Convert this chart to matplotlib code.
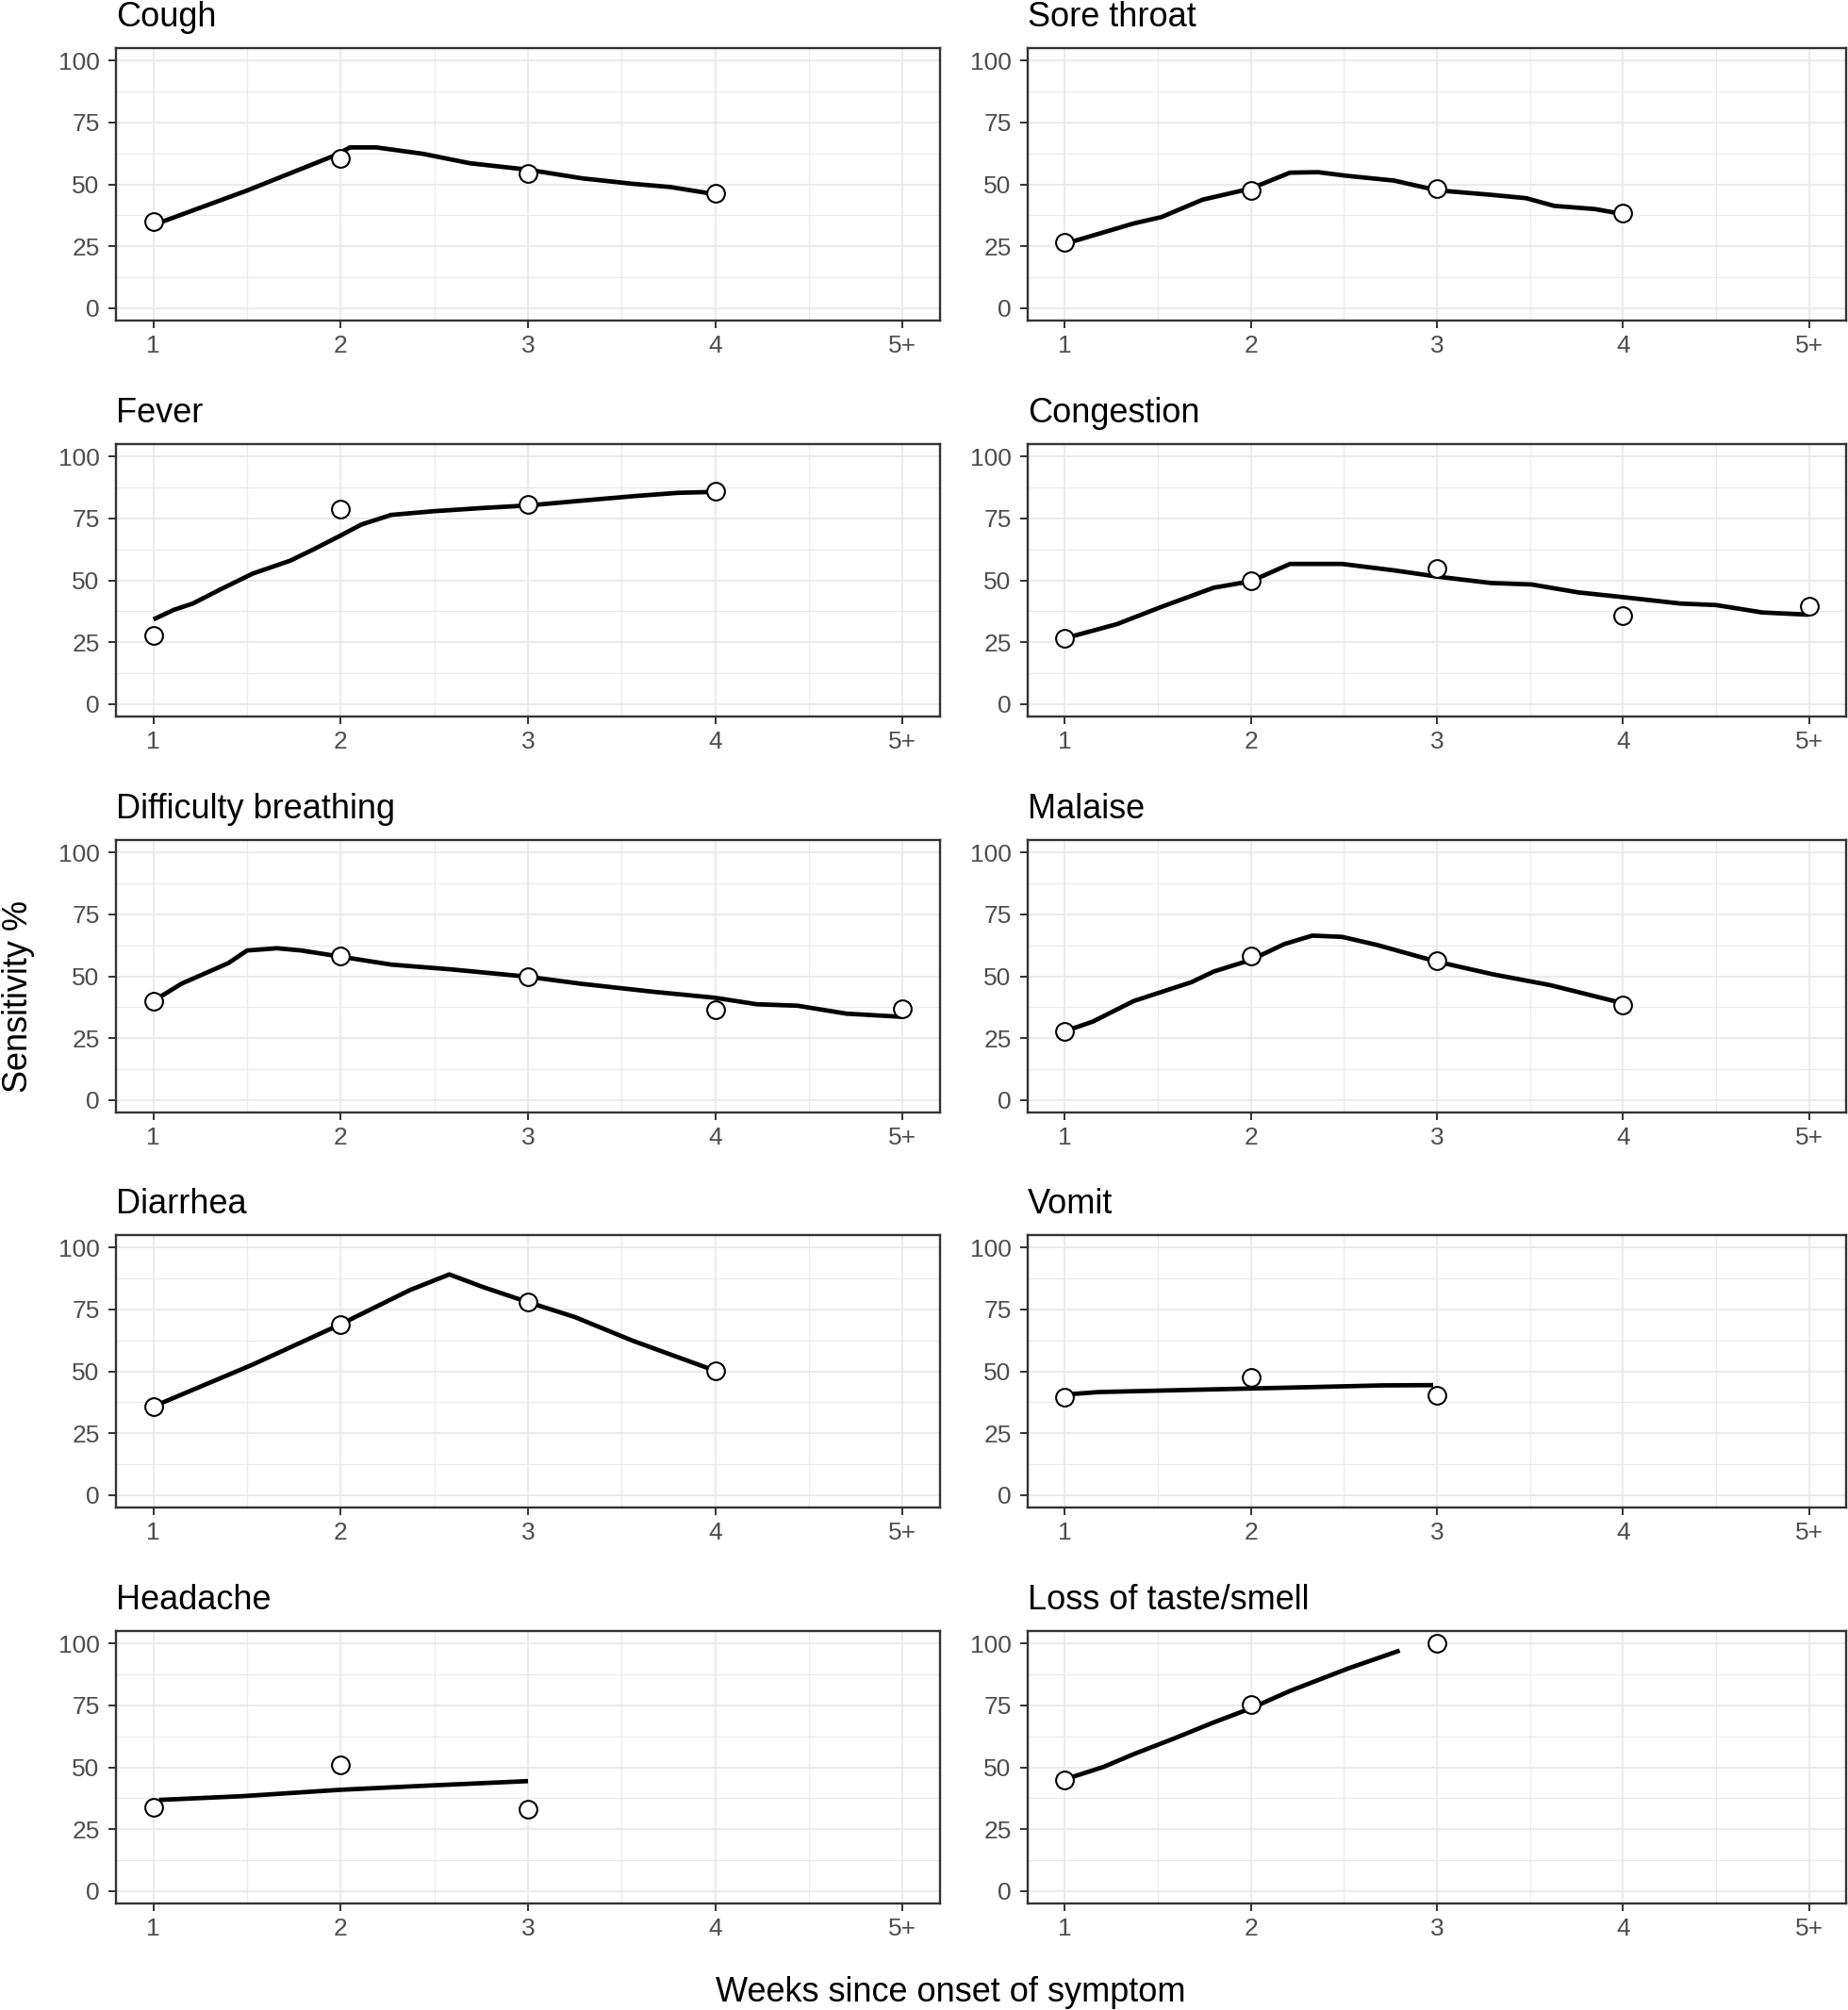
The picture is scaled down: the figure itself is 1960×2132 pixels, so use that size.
import matplotlib
matplotlib.use("Agg")
import matplotlib.pyplot as plt
from matplotlib.ticker import MultipleLocator

plt.rcParams['font.family'] = ['Liberation Sans', 'DejaVu Sans']

# ---------------- data ----------------
week_labels = ["1", "2", "3", "4", "5+"]
week_ticks = [1, 2, 3, 4, 5]
y_ticks = [0, 25, 50, 75, 100]

symptoms = ["Cough", "Sore throat", "Fever", "Congestion",
            "Difficulty breathing", "Malaise", "Diarrhea", "Vomit",
            "Headache", "Loss of taste/smell"]

# observed sensitivity (%) by week
cough_wk = [1, 2, 3, 4]
cough_val = [35, 60.5, 54.5, 46.5]
sore_wk = [1, 2, 3, 4]
sore_val = [26.6, 47.4, 48.3, 38.3]
fever_wk = [1, 2, 3, 4]
fever_val = [27.6, 78.7, 80.5, 86]
cong_wk = [1, 2, 3, 4, 5]
cong_val = [26.6, 49.8, 54.7, 35.8, 39.6]
breath_wk = [1, 2, 3, 4, 5]
breath_val = [40, 58.2, 49.8, 36.5, 36.8]
malaise_wk = [1, 2, 3, 4]
malaise_val = [27.8, 58.2, 56.2, 38.3]
diarr_wk = [1, 2, 3, 4]
diarr_val = [35.8, 69, 77.9, 50.2]
vomit_wk = [1, 2, 3]
vomit_val = [39.6, 47.4, 40.4]
head_wk = [1, 2, 3]
head_val = [34, 51.1, 33.2]
taste_wk = [1, 2, 3]
taste_val = [44.7, 75.4, 100]

# smoothed trend curves
cough_lx = [1, 1.5, 1.97, 2.05, 2.19, 2.44, 2.69, 3, 3.29, 3.56, 3.76, 4]
cough_ly = [33.6, 47.5, 61.7, 64.9, 64.9, 62.3, 58.5, 55.9, 52.4, 50.2, 48.9, 46]
sore_lx = [1, 1.37, 1.52, 1.74, 2, 2.21, 2.36, 2.52, 2.77, 3, 3.3, 3.48, 3.63, 3.85, 4]
sore_ly = [26, 34.2, 36.8, 43.8, 48.3, 54.7, 54.9, 53.4, 51.5, 47.6, 45.7, 44.4, 41.3, 40, 38]
fever_lx = [1, 1.11, 1.21, 1.36, 1.53, 1.73, 1.85, 2, 2.11, 2.27, 2.5, 2.76, 3, 3.28, 3.57, 3.8, 4]
fever_ly = [34.2, 38.1, 40.6, 46.4, 52.7, 57.9, 62.3, 68.1, 72.5, 76.4, 77.9, 79.2, 80.2, 82.1, 84, 85.3, 85.7]
cong_lx = [1, 1.28, 1.52, 1.8, 2, 2.21, 2.49, 2.77, 3, 3.29, 3.51, 3.76, 4, 4.31, 4.5, 4.75, 5]
cong_ly = [26.6, 32.3, 39.3, 47, 49.6, 56.6, 56.6, 54, 51.5, 48.9, 48.3, 45.1, 43.2, 40.6, 40, 37, 36.1]
breath_lx = [1, 1.15, 1.4, 1.5, 1.66, 1.79, 2, 2.27, 2.6, 3, 3.28, 3.66, 4, 4.22, 4.44, 4.7, 5]
breath_ly = [40, 47, 55.3, 60.4, 61.3, 60.4, 57.9, 54.7, 52.7, 49.8, 47, 43.8, 41.3, 38.7, 38.1, 34.9, 33.6]
malaise_lx = [1, 1.15, 1.37, 1.68, 1.8, 2, 2.18, 2.33, 2.49, 2.68, 3, 3.3, 3.61, 4]
malaise_ly = [27.8, 31.7, 40, 47.6, 51.9, 56.6, 63, 66.4, 65.9, 62.6, 55.9, 50.8, 46.4, 39.1]
diarr_lx = [1, 1.53, 2, 2.37, 2.58, 2.76, 3, 3.25, 3.56, 4]
diarr_ly = [35.8, 52.7, 69, 82.8, 89.1, 84, 77.9, 71.9, 62.3, 50.2]
vomit_lx = [1, 1.18, 1.68, 2.21, 2.71, 2.98]
vomit_ly = [40.6, 41.6, 42.5, 43.4, 44.3, 44.4]
head_lx = [1.03, 1.47, 2, 2.44, 3]
head_ly = [36.8, 38.3, 40.9, 42.5, 44.4]
taste_lx = [1, 1.21, 1.37, 1.59, 1.8, 2, 2.21, 2.52, 2.8]
taste_ly = [45.1, 50.2, 55.3, 61.7, 68.1, 73.8, 80.8, 89.8, 97.1]

points = [(cough_wk, cough_val), (sore_wk, sore_val), (fever_wk, fever_val),
          (cong_wk, cong_val), (breath_wk, breath_val), (malaise_wk, malaise_val),
          (diarr_wk, diarr_val), (vomit_wk, vomit_val), (head_wk, head_val),
          (taste_wk, taste_val)]
curves = [(cough_lx, cough_ly), (sore_lx, sore_ly), (fever_lx, fever_ly),
          (cong_lx, cong_ly), (breath_lx, breath_ly), (malaise_lx, malaise_ly),
          (diarr_lx, diarr_ly), (vomit_lx, vomit_ly), (head_lx, head_ly),
          (taste_lx, taste_ly)]

# ---------------- layout ----------------
W, H = 1960, 2132
fig = plt.figure(figsize=(W / 100, H / 100), dpi=100)
fig.patch.set_facecolor("white")

col_left = [123, 1090]
col_width = [874, 868]
row_top = [51, 471, 891, 1310, 1730]
panel_h = 289

for i, name in enumerate(symptoms):
    r, c = divmod(i, 2)
    left = col_left[c] / W
    bottom = 1 - (row_top[r] + panel_h) / H
    ax = fig.add_axes([left, bottom, col_width[c] / W, panel_h / H])
    ax.set_xlim(0.8, 5.2)
    ax.set_ylim(-5, 105)
    ax.set_xticks(week_ticks)
    ax.set_xticklabels(week_labels)
    ax.set_yticks(y_ticks)
    ax.xaxis.set_minor_locator(MultipleLocator(0.5))
    ax.yaxis.set_minor_locator(MultipleLocator(12.5))
    ax.grid(which="major", color="#EBEBEB", lw=1.5)
    ax.grid(which="minor", color="#EBEBEB", lw=0.9)
    ax.set_axisbelow(True)
    ax.tick_params(which="minor", length=0)
    ax.tick_params(which="major", length=5.5, width=1.4, color="#333333",
                   labelsize=19, labelcolor="#4D4D4D")
    ax.tick_params(axis="y", pad=7)
    ax.tick_params(axis="x", pad=5)
    for sp in ax.spines.values():
        sp.set_color("#333333")
        sp.set_linewidth(1.7)

    lx, ly = curves[i]
    ax.plot(lx, ly, color="black", lw=3.4, solid_capstyle="butt",
            solid_joinstyle="round", zorder=3)
    px, py = points[i]
    ax.plot(px, py, linestyle="none", marker="o", ms=13.5, mfc="white",
            mec="black", mew=1.5, zorder=4, clip_on=False)

    ax.annotate(name, xy=(0, 1), xycoords="axes fraction",
                xytext=(0, 16.5), textcoords="offset points",
                ha="left", va="baseline", fontsize=26, color="black")

fig.text(1008 / W, 1 - 2123 / H, "Weeks since onset of symptom",
         ha="center", va="baseline", fontsize=26, color="black")
fig.text(20 / W, 1 - 1057 / H, "Sensitivity %", rotation=90,
         ha="center", va="center", fontsize=26, color="black")

fig.savefig("out.png", dpi=100, facecolor="white")
